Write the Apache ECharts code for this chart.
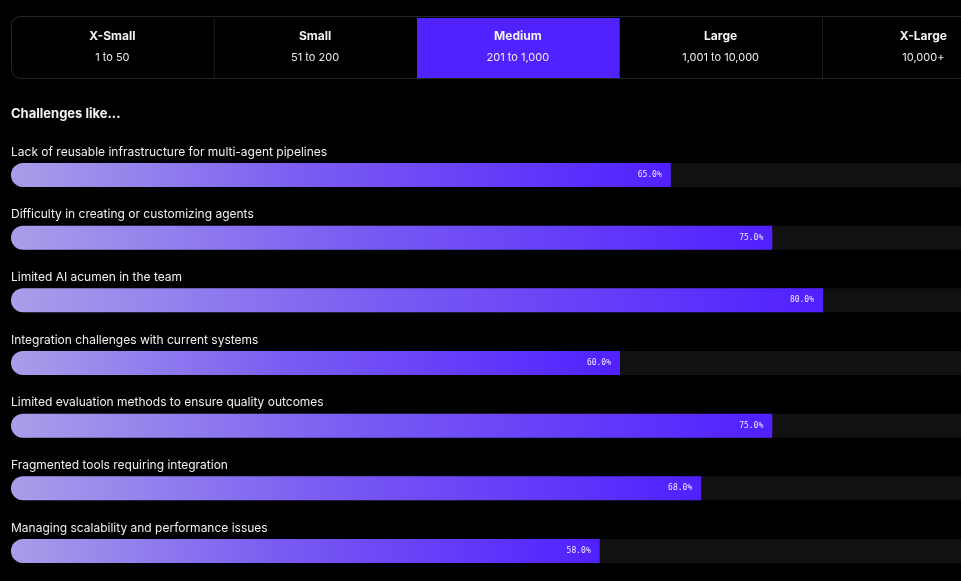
<!DOCTYPE html>
<html>
<head>
<meta charset="utf-8">
<script src="https://cdn.jsdelivr.net/npm/echarts@6/dist/echarts.min.js"></script>
<style>
html,body{margin:0;padding:0;background:#000;}
#chart{width:961px;height:581px;}
</style>
</head>
<body>
<div id="chart"></div>
<script>
const tabNames = ['X-Small', 'Small', 'Medium', 'Large', 'X-Large'];
const tabRanges = ['1 to 50', '51 to 200', '201 to 1,000', '1,001 to 10,000', '10,000+'];
const activeTab = 2;
const heading = 'Challenges like...';
const categories = [
  'Lack of reusable infrastructure for multi-agent pipelines',
  'Difficulty in creating or customizing agents',
  'Limited AI acumen in the team',
  'Integration challenges with current systems',
  'Limited evaluation methods to ensure quality outcomes',
  'Fragmented tools requiring integration',
  'Managing scalability and performance issues'
];
const values = [65, 75, 80, 60, 75, 68, 58];

const FONT = 'Inter, "Noto Sans", sans-serif';
const chart = echarts.init(document.getElementById('chart'));

// the 0–100 track is wider than the window; only the part up to the right edge is visible
const trackFull = 1015, gridLeft = 11, gridW = 950;
const xMax = 100 * gridW / trackFull;

const tabX0 = 11, tabW = 202.75, tabY = 17, tabH = 61;
const graphics = [];
graphics.push({
  type: 'rect', shape: {x: tabX0 + 0.5, y: tabY - 0.5, width: tabW * 5, height: tabH + 1, r: 9},
  style: {fill: '#000', stroke: '#262626', lineWidth: 1}, z: 1
});
tabNames.forEach((name, i) => {
  const x = tabX0 + i * tabW;
  if (i === activeTab) {
    graphics.push({type: 'rect', shape: {x: x + 0.5, y: tabY + 1, width: tabW, height: tabH - 1},
      style: {fill: '#5022ff'}, z: 2});
  } else if (i > 0 && i !== activeTab + 1) {
    graphics.push({type: 'line', shape: {x1: x + 0.5, y1: tabY + 1, x2: x + 0.5, y2: tabY + tabH},
      style: {stroke: '#1c1c1c', lineWidth: 1}, z: 2});
  }
  graphics.push({type: 'text', x: x + tabW / 2, y: 36, z: 3,
    style: {text: name, fill: '#f2f2f2', font: 'bold 12px ' + FONT, align: 'center', verticalAlign: 'middle'}});
  graphics.push({type: 'text', x: x + tabW / 2, y: 58, z: 3,
    style: {text: tabRanges[i], fill: '#ececec', font: '11px ' + FONT, align: 'center', verticalAlign: 'middle'}});
});
graphics.push({type: 'text', x: 11, y: 114, z: 3,
  style: {text: heading, fill: '#f2f2f2', font: 'bold 13px ' + FONT, align: 'left', verticalAlign: 'middle'}});

chart.setOption({
  backgroundColor: '#000',
  animation: false,
  graphic: graphics,
  // category centres sit on the grid edges (boundaryGap false), ~63px apart
  grid: {left: gridLeft, width: gridW, top: 175, bottom: 27, containLabel: false},
  xAxis: {type: 'value', min: 0, max: xMax, show: false},
  yAxis: {
    type: 'category', data: categories, inverse: true, boundaryGap: false,
    axisLine: {show: false}, axisTick: {show: false}, splitLine: {show: false},
    axisLabel: {
      inside: true, margin: 0, align: 'left', verticalAlign: 'middle',
      interval: 0, showMinLabel: true, showMaxLabel: true, hideOverlap: false,
      formatter: v => '{a|' + v + '}\n{b|}',
      rich: {
        a: {color: '#f0f0f0', fontFamily: FONT, fontSize: 12, lineHeight: 14},
        b: {height: 46, lineHeight: 46}
      }
    },
    z: 5
  },
  series: [{
    type: 'bar',
    data: values,
    barWidth: 24,
    showBackground: true,
    backgroundStyle: {color: '#111111', borderRadius: [12, 0, 0, 12]},
    itemStyle: {
      borderRadius: [12, 0, 0, 12],
      color: new echarts.graphic.LinearGradient(0, 0, 1, 0, [
        {offset: 0, color: '#a99ee9'},
        {offset: 0.45, color: '#7a5cf2'},
        {offset: 1, color: '#5020ff'}
      ])
    },
    label: {
      show: true, position: 'insideRight', distance: 9,
      formatter: p => p.value.toFixed(1) + '%',
      color: '#ece8ff', fontFamily: '"DejaVu Sans Mono", monospace', fontSize: 8
    }
  }]
});
</script>
</body>
</html>
